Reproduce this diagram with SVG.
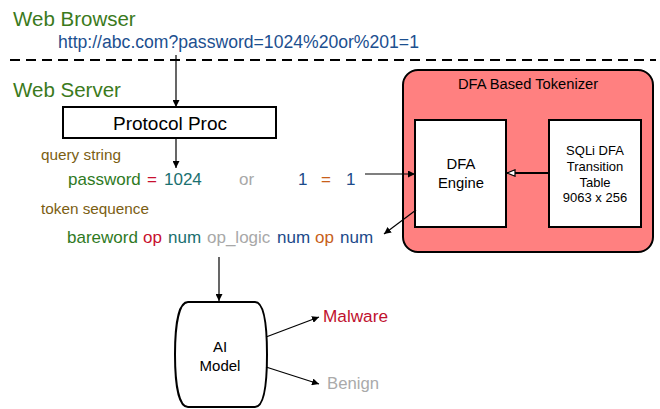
<svg xmlns="http://www.w3.org/2000/svg" width="660" height="409" viewBox="0 0 660 409">
<defs>
<marker id="ah" viewBox="0 0 10 10" refX="10" refY="5" markerWidth="7" markerHeight="7" markerUnits="userSpaceOnUse" orient="auto">
<path d="M0,0 L10,5 L0,10 z" fill="#000"/>
</marker>
<marker id="oh" viewBox="0 0 12 10" refX="11" refY="5" markerWidth="10" markerHeight="8" markerUnits="userSpaceOnUse" orient="auto">
<path d="M1,1 L11,5 L1,9 z" fill="#fff" stroke="#000" stroke-width="1.5"/>
</marker>
</defs>
<style>
text{font-family:"Liberation Sans",Arial,Helvetica,sans-serif}
.hd{font-size:20.5px;fill:#3b7a1c}
.lbl{font-size:15.3px;fill:#7b5e12}
.box{fill:#fff;stroke:#000;stroke-width:2}
.ln{stroke:#000;stroke-width:1.2;fill:none;marker-end:url(#ah)}
.g{fill:#2f7a1f}.r{fill:#c8102e}.t{fill:#1a7070}.gy{fill:#a8a8a8}.b{fill:#1c4a8a}.o{fill:#c8601a}
</style>
<rect width="660" height="409" fill="#fff"/>

<g id="browser">
<text class="hd" x="13" y="26">Web Browser</text>
<text x="58" y="48" font-size="17.6" fill="#1c4f8f">http://abc.com?password=1024%20or%201=1</text>
</g>
<line x1="10" y1="60" x2="656" y2="60" stroke="#000" stroke-width="2" stroke-dasharray="10,6"/>
<g id="server">
<text class="hd" x="13" y="97">Web Server</text>
</g>

<g id="protocol">
<rect class="box" x="63" y="107" width="213" height="31"/>
<text x="170" y="130" font-size="19" text-anchor="middle" fill="#000">Protocol Proc</text>
</g>

<g id="query">
<text class="lbl" x="41" y="160">query string</text>
<g font-size="17">
<text class="g" x="68" y="185">password</text>
<text class="r" x="147" y="185">=</text>
<text class="t" x="164" y="185">1024</text>
<text class="gy" x="239" y="185">or</text>
<text class="b" x="298" y="185">1</text>
<text class="o" x="321" y="185">=</text>
<text class="b" x="346" y="185">1</text>
</g>
</g>

<g id="tokens">
<text class="lbl" x="41" y="214">token sequence</text>
<text y="243" font-size="17"><tspan class="g" x="67">bareword</tspan><tspan class="r" x="143">op</tspan><tspan class="t" x="168">num</tspan><tspan class="gy" x="207">op_logic</tspan><tspan class="b" x="277">num</tspan><tspan class="o" x="315">op</tspan><tspan class="b" x="340">num</tspan></text>
</g>

<g id="tokenizer">
<rect x="403" y="70" width="250" height="182" rx="15" fill="#ff8080" stroke="#000" stroke-width="2"/>
<text x="528" y="89" font-size="14.7" text-anchor="middle" fill="#000">DFA Based Tokenizer</text>
</g>

<g id="dfa-engine">
<rect class="box" x="415" y="120" width="91" height="107"/>
<text x="461" y="169" font-size="14.8" text-anchor="middle" fill="#000">DFA</text>
<text x="461" y="188" font-size="14.8" text-anchor="middle" fill="#000">Engine</text>
</g>

<g id="sqli-table">
<rect class="box" x="549" y="120" width="92" height="107"/>
<g font-size="13" text-anchor="middle" fill="#000">
<text x="595" y="155">SQLi DFA</text>
<text x="595" y="171">Transition</text>
<text x="595" y="187">Table</text>
<text x="595" y="202">9063 x 256</text>
</g>
</g>

<g id="ai-model">
<path d="M188,302 H255 C264,302 267,324 267,354.5 C267,385 264,407 255,407 H188 C179,407 175,385 175,354.5 C175,324 179,302 188,302 Z" fill="#fff" stroke="#000" stroke-width="2"/>
<text x="220" y="352" font-size="15" text-anchor="middle" fill="#000">AI</text>
<text x="220" y="371" font-size="15" text-anchor="middle" fill="#000">Model</text>
</g>

<g id="outputs">
<text x="323" y="322" font-size="17.2" fill="#c0102e">Malware</text>
<text x="327" y="389" font-size="16.7" fill="#aaaaaa">Benign</text>
</g>

<g id="connectors">
<line class="ln" x1="176" y1="55" x2="176" y2="107"/>
<line class="ln" x1="176" y1="139" x2="176" y2="168"/>
<line class="ln" x1="365" y1="174" x2="415" y2="174"/>
<line class="ln" x1="416" y1="210" x2="384" y2="234"/>
<line x1="549" y1="173" x2="507" y2="173" stroke="#000" stroke-width="2" marker-end="url(#oh)"/>
<line class="ln" x1="219" y1="257" x2="219" y2="301"/>
<line class="ln" x1="266" y1="337" x2="319" y2="317"/>
<line class="ln" x1="266" y1="367" x2="319" y2="384"/>
</g>
</svg>
